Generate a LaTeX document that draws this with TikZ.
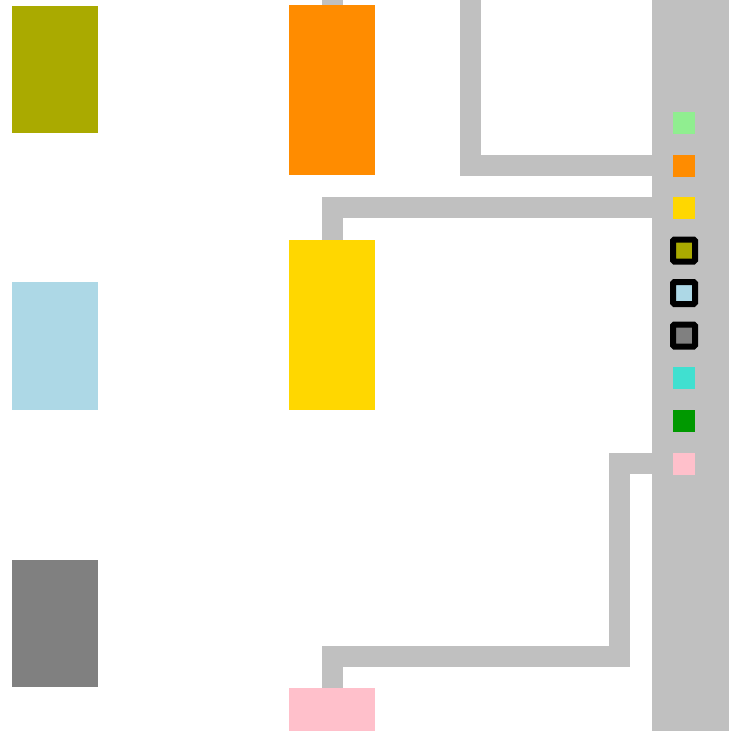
\documentclass[tikz,border=0pt]{standalone}
\usetikzlibrary{positioning}
\definecolor{olivebox}{HTML}{AAAA00}
\definecolor{skyblue}{HTML}{ADD8E6}
\definecolor{midgray}{HTML}{808080}
\definecolor{darkorng}{HTML}{FF8C00}
\definecolor{goldbox}{HTML}{FFD700}
\definecolor{pinkbox}{HTML}{FFC0CB}
\definecolor{palegrn}{HTML}{90EE90}
\definecolor{turq}{HTML}{40E0D0}
\definecolor{leafgrn}{HTML}{009900}
\definecolor{silverbar}{HTML}{C0C0C0}

\tikzset{
  block/.style={draw=none, inner sep=0pt, outer sep=0pt, minimum width=2.15cm},
  swatch/.style={draw=none, inner sep=0pt, outer sep=0pt, minimum size=0.55cm},
  marked/.style={swatch, draw=black, line width=0.15cm, rounded corners=1pt},
  wire/.style={silverbar, line width=0.525cm}
}

\begin{document}
\begin{tikzpicture}[x=0.025cm, y=-0.025cm]

% Canvas (pixel units, y downwards)
\path[use as bounding box, clip] (0,0) rectangle (729,731);
\fill[white] (0,0) rectangle (729,731);

% Left column
\node[block, fill=olivebox, minimum height=3.18cm] (olive) at (55,69.5) {};
\node[block, fill=skyblue, minimum height=3.2cm] (sky) at (55,346) {};
\node[block, fill=midgray, minimum height=3.18cm] (gray) at (55,623.5) {};

% Middle column
\node[block, fill=darkorng, minimum height=4.25cm] (orange) at (332,90) {};
\node[block, fill=goldbox, minimum height=4.25cm] (yellow) at (332,325) {};
\node[block, fill=pinkbox, minimum height=4.25cm] (pink) at (332,773) {};

% Legend positions on the bar
\coordinate (lgGreenC) at (684,122.5);
\coordinate (lgOrangeC) at (684,165.5);
\coordinate (lgGoldC) at (684,207.5);
\coordinate (lgOliveC) at (684,250.5);
\coordinate (lgSkyC) at (684,293);
\coordinate (lgGrayC) at (684,335.5);
\coordinate (lgTurqC) at (684,378);
\coordinate (lgLeafC) at (684,421);
\coordinate (lgPinkC) at (684,463.5);

% Free ends and bends
\coordinate (topA) at (332,-20);
\coordinate (topB) at (470.5,-20);
\coordinate (pinkBend) at (619.5,656.5);

% Connectors
\draw[wire] (orange.north) -- (topA);
\draw[wire] (lgOrangeC) -| (topB);
\draw[wire] (lgGoldC) -| (yellow.north);
\draw[wire] (lgPinkC) -| (pinkBend) -| (pink.north);

% Right bar
\fill[silverbar] (652,-10) rectangle (740,741);

% Legend swatches
\node[swatch, fill=palegrn] (lgGreen) at (lgGreenC) {};
\node[swatch, fill=darkorng] (lgOrange) at (lgOrangeC) {};
\node[swatch, fill=goldbox] (lgGold) at (lgGoldC) {};
\node[marked, fill=olivebox] (lgOlive) at (lgOliveC) {};
\node[marked, fill=skyblue] (lgSky) at (lgSkyC) {};
\node[marked, fill=midgray] (lgGray) at (lgGrayC) {};
\node[swatch, fill=turq] (lgTurq) at (lgTurqC) {};
\node[swatch, fill=leafgrn] (lgLeaf) at (lgLeafC) {};
\node[swatch, fill=pinkbox] (lgPink) at (lgPinkC) {};

\end{tikzpicture}
\end{document}
